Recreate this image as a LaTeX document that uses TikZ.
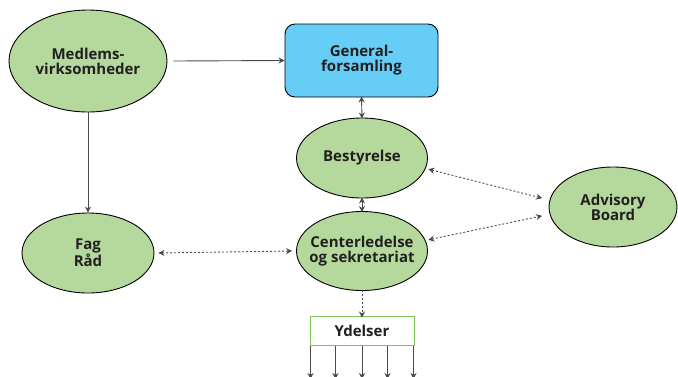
\documentclass[tikz,border=0pt]{standalone}
\usepackage{fontspec}
\setmainfont{Open Sans}
\usetikzlibrary{shapes.geometric,arrows.meta}
\definecolor{elgreen}{HTML}{B5D99C}
\definecolor{boxblue}{HTML}{66CDF6}
\definecolor{txt}{HTML}{231F20}
\definecolor{ln}{HTML}{4A4A4A}
\definecolor{ygreen}{HTML}{7DC45A}
\tikzset{
  lbl/.style={font=\bfseries\fontsize{15}{15}\selectfont, text=txt, align=center},
  oval/.style={ellipse, draw=black, line width=0.9pt, fill=elgreen, inner ysep=0pt, inner xsep=-12pt, lbl},
  tip/.tip={Stealth[length=6pt,width=6pt]},
  solidarr/.style={draw=ln, line width=0.9pt, -tip},
  solidbi/.style={draw=ln, line width=0.9pt, tip-tip},
  dotbi/.style={draw=ln, line width=0.9pt, dash pattern=on 2pt off 2pt, tip-tip},
  dotarr/.style={draw=ln, line width=0.9pt, dash pattern=on 2pt off 2pt, -tip},
}
\begin{document}
\begin{tikzpicture}[x=1pt,y=-1pt]
\useasboundingbox (0,0) rectangle (678,376);
\node[oval, minimum width=158pt, minimum height=102pt] (med) at (88,61) {Medlems-\\virksomheder};
\node[draw=black, line width=0.9pt, fill=boxblue, rounded corners=10pt, minimum width=153pt, minimum height=73pt, lbl] (gen) at (361.5,60.5) {General-\\forsamling};
\node[oval, minimum width=131pt, minimum height=80pt] (best) at (362,158) {Bestyrelse};
\node[oval, minimum width=131pt, minimum height=79pt] (cent) at (362,251) {Centerledelse\\og sekretariat};
\node[oval, minimum width=128pt, minimum height=80pt] (adv) at (613,207) {Advisory\\Board};
\node[oval, minimum width=132pt, minimum height=80pt] (fag) at (88,253) {Fag\\Råd};
\node[draw=ygreen, line width=1pt, fill=white, minimum width=104pt, minimum height=29pt, inner sep=0pt, lbl] (yd) at (362,330.5) {Ydelser};

\draw[solidarr] ([xshift=6pt]med.east) -- (gen.west);
\draw[solidarr] (med.south) -- (fag.north);
\draw[solidbi] ([yshift=1pt]gen.south) -- ([yshift=-1pt]best.north);
\draw[solidbi] ([yshift=1pt]best.south) -- ([yshift=-1pt]cent.north);
\draw[dotbi] ([shift={(3pt,0pt)}]best.-10) -- ([xshift=-8pt]adv.172);
\draw[dotbi] ([shift={(3pt,0pt)}]cent.10) -- ([xshift=-8pt]adv.188);
\draw[dotbi] ([xshift=4pt]fag.east) -- ([xshift=-4pt]cent.west);
\draw[dotarr] ([yshift=1pt]cent.south) -- ([yshift=-2pt]yd.north);

\foreach \i/\x in {1/310.5,2/335.5,3/362,4/387.5,5/413.5}{
  \coordinate (e\i) at (\x,379);
  \draw[solidarr] (yd.south -| e\i) -- (e\i);
}
\end{tikzpicture}
\end{document}
